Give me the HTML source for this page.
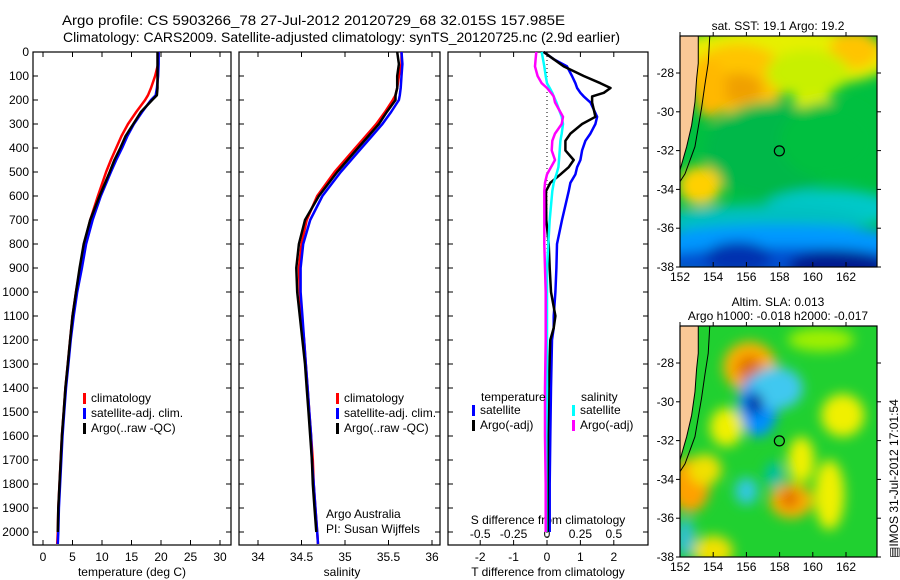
<!DOCTYPE html>
<html><head><meta charset="utf-8"><style>
html,body{margin:0;padding:0;background:#fff;}
svg{display:block;font-family:"Liberation Sans",sans-serif;}
</style></head><body>
<svg id="c" width="900" height="580" viewBox="0 0 900 580">
<defs>
<filter id="bl" x="-50%" y="-50%" width="200%" height="200%"><feGaussianBlur stdDeviation="6"/></filter>
<clipPath id="m1"><rect x="680" y="36" width="197" height="231"/></clipPath>
<clipPath id="m2"><rect x="680" y="326" width="197" height="231"/></clipPath>
</defs>
<text x="62" y="25" font-size="14" textLength="503" lengthAdjust="spacingAndGlyphs">Argo profile: CS 5903266_78 27-Jul-2012 20120729_68 32.015S 157.985E</text>
<text x="63" y="42" font-size="14" textLength="557" lengthAdjust="spacingAndGlyphs">Climatology: CARS2009. Satellite-adjusted climatology: synTS_20120725.nc (2.9d earlier)</text>
<g id="g"></g>
</svg>
<script>
const depths=[0,50,100,150,180,200,250,300,350,400,450,500,600,700,800,900,1000,1100,1200,1300,1400,1500,1600,1700,1800,1900,2000,2050];
const tClim=[19.6,19.5,19.0,18.3,17.8,17.3,15.8,14.4,13.3,12.4,11.5,10.7,9.3,8.0,7.0,6.3,5.6,5.0,4.6,4.2,3.8,3.5,3.2,3.0,2.8,2.6,2.5,2.4];
const tSat=[19.6,19.6,19.5,19.3,19.1,18.3,16.8,15.4,14.3,13.4,12.4,11.5,9.8,8.4,7.3,6.6,5.8,5.2,4.7,4.3,3.9,3.6,3.3,3.1,2.9,2.7,2.6,2.5];
const tArgo=[19.4,19.4,19.4,19.4,19.3,18.5,16.6,15.3,14.0,13.1,12.1,11.3,9.6,8.0,6.9,6.2,5.6,5.0,4.6,4.2,3.8,3.5,3.2,3.0,2.8,2.6,2.5,null];
const sClim=[35.65,35.65,35.62,35.6,35.58,35.55,35.46,35.36,35.24,35.12,35.0,34.88,34.68,34.56,34.5,34.47,34.48,34.5,34.53,34.55,34.57,34.59,34.61,34.63,34.64,34.66,34.68,34.69];
const sSat=[35.65,35.66,35.65,35.64,35.63,35.62,35.53,35.43,35.31,35.19,35.07,34.95,34.74,34.6,34.52,34.49,34.49,34.51,34.53,34.55,34.57,34.59,34.61,34.62,34.64,34.66,34.68,34.69];
const sArgo=[35.6,35.62,35.6,35.6,35.58,35.58,35.48,35.39,35.27,35.15,35.03,34.91,34.7,34.54,34.47,34.44,34.45,34.48,34.51,34.54,34.56,34.58,34.6,34.62,34.63,34.65,34.67,null];
const dDepth=[0,30,60,100,130,150,170,185,210,240,270,300,340,370,410,450,480,510,545,580,700,800,900,1000,1100,1150,1200,1400,1600,1800,2000];
const dTSat=[-0.1,0.2,0.6,0.75,0.85,0.9,1.0,1.1,1.3,1.4,1.5,1.45,1.3,1.15,1.05,1.0,0.9,0.85,0.7,0.65,0.45,0.3,0.28,0.25,0.2,0.2,0.15,0.12,0.1,0.08,0.08];
const dTArgo=[-0.1,0.2,0.5,1.1,1.6,1.9,1.7,1.35,1.35,1.4,1.45,1.05,0.7,0.55,0.55,0.8,0.65,0.4,0.1,-0.03,-0.02,0.05,0.08,0.12,0.25,0.2,0.1,0.05,0.03,0.02,0.02];
const dSSat=[-0.04,-0.03,-0.02,-0.01,0.0,0.02,0.04,0.05,0.07,0.09,0.11,0.12,0.11,0.1,0.095,0.09,0.085,0.07,0.05,0.04,0.02,0.01,0.0,0.0,0.0,0.0,0.0,0.0,-0.005,-0.005,-0.005];
const dSArgo=[-0.08,-0.085,-0.09,-0.07,-0.04,0.0,0.03,0.05,0.06,0.09,0.12,0.11,0.06,0.04,0.035,0.06,0.03,0.0,-0.015,-0.02,-0.02,-0.02,-0.015,-0.01,-0.01,-0.01,-0.01,-0.015,-0.015,-0.01,-0.01];
const depthTicks=[0,100,200,300,400,500,600,700,800,900,1000,1100,1200,1300,1400,1500,1600,1700,1800,1900,2000];
const tTicks=[0,5,10,15,20,25,30];
const sTicks=[34,34.5,35,35.5,36];
const dtTicks=[-2,-1,0,1,2];
const dsTicks=[-0.5,-0.25,0,0.25,0.5];
const lonTicks=[152,154,156,158,160,162];
const latTicks=[-28,-30,-32,-34,-36,-38];

const NS='http://www.w3.org/2000/svg';
const G=document.getElementById('g');
function mk(t,a,p){const e=document.createElementNS(NS,t);for(const k in a)e.setAttribute(k,a[k]);(p||G).appendChild(e);return e;}
const TOP=52,BOT=545;
const y=d=>TOP+d*0.24;
const xT=v=>43+v*5.9;
const xS=v=>258+(v-34)*87;
const xDT=v=>547+v*33.4;
const xDS=v=>547+v*133.6;
const lonX=v=>680+(v-152)*16.6;
const latY1=v=>73+(-v-28)*19.4;
const latY2=v=>363+(-v-28)*19.4;

function frame(x0,x1,name){
  const r=mk('rect',{x:x0,y:TOP,width:x1-x0,height:BOT-TOP,fill:'none',stroke:'#000','stroke-width':1.2});
  
  depthTicks.forEach(d=>{mk('line',{x1:x0,x2:x0+5,y1:y(d),y2:y(d),stroke:'#000'});mk('line',{x1:x1-5,x2:x1,y1:y(d),y2:y(d),stroke:'#000'});});
}
function line(xs,ds,f,col,w,name){
  let pts=[];ds.forEach((d,i)=>{if(xs[i]!=null)pts.push(f(xs[i]).toFixed(1)+','+y(d).toFixed(1));});
  const p=mk('polyline',{points:pts.join(' '),fill:'none',stroke:col,'stroke-width':w,'stroke-linejoin':'round'});
  
}
function txt(x,yy,s,o){const t=mk('text',Object.assign({x:x,y:yy,'font-size':12},o||{}));t.textContent=s;return t;}
function xticks(ticks,f,x0,x1,ly,fmt){ticks.forEach(v=>{const X=f(v);mk('line',{x1:X,x2:X,y1:BOT,y2:BOT-5,stroke:'#000'});mk('line',{x1:X,x2:X,y1:TOP,y2:TOP+5,stroke:'#000'});const t=txt(X,ly,fmt?fmt(v):String(v),{'text-anchor':'middle'});});}
function legend(x,yy,items){items.forEach((it,i)=>{mk('rect',{x:x,y:yy+i*15-9,width:3,height:11,fill:it[0]});const t=txt(x+8,yy+i*15,it[1]);});}

// Panel 1
frame(33,231,'temperature-panel');
depthTicks.forEach(d=>{const t=txt(29,y(d)+4,String(d),{'text-anchor':'end'});});
xticks(tTicks,xT,33,231,561);
txt(132,576,'temperature (deg C)',{'text-anchor':'middle'});
line(tClim,depths,xT,'#f00',2.5,'temp-climatology-line');
line(tSat,depths,xT,'#00f',2.5,'temp-satellite-line');
line(tArgo,depths,xT,'#000',2.5,'temp-argo-line');
legend(83,402,[['#f00','climatology'],['#00f','satellite-adj. clim.'],['#000','Argo(..raw -QC)']]);

// Panel 2
frame(239,440,'salinity-panel');
xticks(sTicks,xS,239,440,561);
txt(342,576,'salinity',{'text-anchor':'middle'});
line(sClim,depths,xS,'#f00',2.5,'sal-climatology-line');
line(sSat,depths,xS,'#00f',2.5,'sal-satellite-line');
line(sArgo,depths,xS,'#000',2.5,'sal-argo-line');
legend(336,402,[['#f00','climatology'],['#00f','satellite-adj. clim.'],['#000','Argo(..raw -QC)']]);
txt(326,518,'Argo Australia');
txt(326,533,'PI: Susan Wijffels');

// Panel 3
frame(448,648,'difference-panel');
mk('line',{x1:xDT(0),x2:xDT(0),y1:TOP,y2:BOT,stroke:'#000','stroke-dasharray':'1,3'});
xticks(dtTicks,xDT,448,648,561);
dsTicks.forEach(v=>{const t=txt(xDS(v),538,String(v),{'text-anchor':'middle'});});
txt(548,524,'S difference from climatology',{'text-anchor':'middle'});
txt(548,576,'T difference from climatology',{'text-anchor':'middle'});
line(dTSat,dDepth,xDT,'#00f',2.5,'tdiff-satellite-line');
line(dTArgo,dDepth,xDT,'#000',2.5,'tdiff-argo-line');
line(dSSat,dDepth,xDS,'#0ff',2.5,'sdiff-satellite-line');
line(dSArgo,dDepth,xDS,'#f0f',2.5,'sdiff-argo-line');
txt(481,401,'temperature');
txt(581,401,'salinity');
legend(472,414,[['#00f','satellite'],['#000','Argo(-adj)']]);
legend(572,414,[['#0ff','satellite'],['#f0f','Argo(-adj)']]);

// Maps
function map(top,clip,latY,blobs,base,name,titles){
  const g=mk('g',{'clip-path':'url(#'+clip+')'});
  
  mk('rect',{x:680,y:top,width:197,height:231,fill:base},g);
  const bg=mk('g',{filter:'url(#bl)'},g);
  blobs.forEach(b=>mk('ellipse',{cx:lonX(b[0]),cy:latY(b[1]),rx:b[2]*16.6,ry:b[3]*19.4,fill:b[4]},bg));
  const land=[[152,-26],[153.1,-26],[153.1,-27.5],[153.0,-28.3],[152.9,-29.5],[152.7,-30.7],[152.4,-31.8],[152.1,-32.7],[152,-33]];
  const lp=mk('polygon',{points:land.map(p=>lonX(p[0])+','+latY(p[1])).join(' ')+' '+lonX(151.5)+','+latY(-33),fill:'#fac896',stroke:'#000','stroke-width':1},g);
  
  const iso=[[153.8,-26],[153.7,-27.5],[153.5,-28.6],[153.3,-29.8],[153.1,-30.8],[152.9,-31.8],[152.6,-32.5],[152.3,-33.2],[152,-33.6]];
  mk('polyline',{points:iso.map(p=>lonX(p[0])+','+latY(p[1])).join(' '),fill:'none',stroke:'#000','stroke-width':1},g);
  mk('circle',{cx:lonX(157.985),cy:latY(-32.015),r:5,fill:'none',stroke:'#000','stroke-width':1.2},g);
  mk('rect',{x:680,y:top,width:197,height:231,fill:'none',stroke:'#000','stroke-width':1.2});
  lonTicks.forEach(v=>{const X=lonX(v);mk('line',{x1:X,x2:X,y1:top+231,y2:top+226,stroke:'#000'});mk('line',{x1:X,x2:X,y1:top,y2:top-4,stroke:'#000'});const t=txt(X,top+245,String(v),{'text-anchor':'middle'});});
  latTicks.forEach(v=>{const Y=latY(v);mk('line',{x1:680,x2:676,y1:Y,y2:Y,stroke:'#000'});mk('line',{x1:877,x2:881,y1:Y,y2:Y,stroke:'#000'});const t=txt(674,Y+4,String(v),{'text-anchor':'end'});});
  titles.forEach((s,i)=>{const t=txt(778,top-(titles.length-i-1)*14-6,s,{'text-anchor':'middle'});});
}
const sstBlobs=[
 [158,-27.2,7,1.6,'#e6f000'],[155.5,-28.3,3,1.8,'#ffc400'],[155.5,-28.8,1.5,0.8,'#f0a000'],[153.8,-28.8,1,1.5,'#ffb800'],
 [162.5,-26.8,1.5,1,'#ffc400'],[160,-30,1.2,1.5,'#e0f000'],[159.7,-28,2.5,1.2,'#c8f000'],
 [157.5,-32,4,2.5,'#00b848'],[161,-31.5,3,2,'#00c040'],[153.2,-33.8,1.3,1,'#ffd000'],
 [161,-35,4,1,'#00c8c8'],[157,-35.6,6,0.8,'#00c0c0'],[158,-36.8,8,1,'#0098ff'],[158,-37.8,8,0.8,'#0050d0'],[155.5,-37.5,2,0.8,'#0030b0'],[161.5,-38,3,0.9,'#001c90']
];
const slaBlobs=[
 [156.2,-28.2,1.6,1.3,'#ffb000'],[156.2,-28.3,0.8,0.7,'#e07000'],[156.7,-30.2,1.2,1.6,'#0090ff'],[157.8,-29.3,1.6,1.1,'#40c8f0'],[156.5,-30.1,0.5,0.6,'#0020a0'],
 [152.6,-34.3,1.2,1.4,'#ffa000'],[153.5,-33.5,1,0.8,'#f0e000'],[158.7,-35.1,1.3,0.9,'#ffb000'],[158.6,-35.0,0.6,0.5,'#e07000'],
 [154.8,-31.3,1,1,'#f0f000'],[161,-34.8,0.9,1.8,'#f0f000'],[161.8,-30.7,1.3,1.1,'#f0f000'],[159.3,-33,0.8,1.2,'#f0f000'],
 [154,-37.7,1.2,0.8,'#f0e000'],[156,-34.6,0.7,0.7,'#30c8e0'],[152.3,-37,0.6,1,'#30c0d0'],[157.7,-33.8,0.6,0.7,'#00c0a0'],[160.5,-26.8,2,0.6,'#a0f000']
];
map(36,'m1',latY1,sstBlobs,'#00c040','sst-map',['sat. SST: 19.1  Argo: 19.2']);
map(326,'m2',latY2,slaBlobs,'#20d030','sla-map',['Altim. SLA: 0.013','Argo h1000: -0.018 h2000: -0.017']);
const st=txt(0,0,'\u25A4IMOS 31-Jul-2012 17:01:54',{transform:'translate(898,558) rotate(-90)','font-size':12});

</script>
</body></html>
